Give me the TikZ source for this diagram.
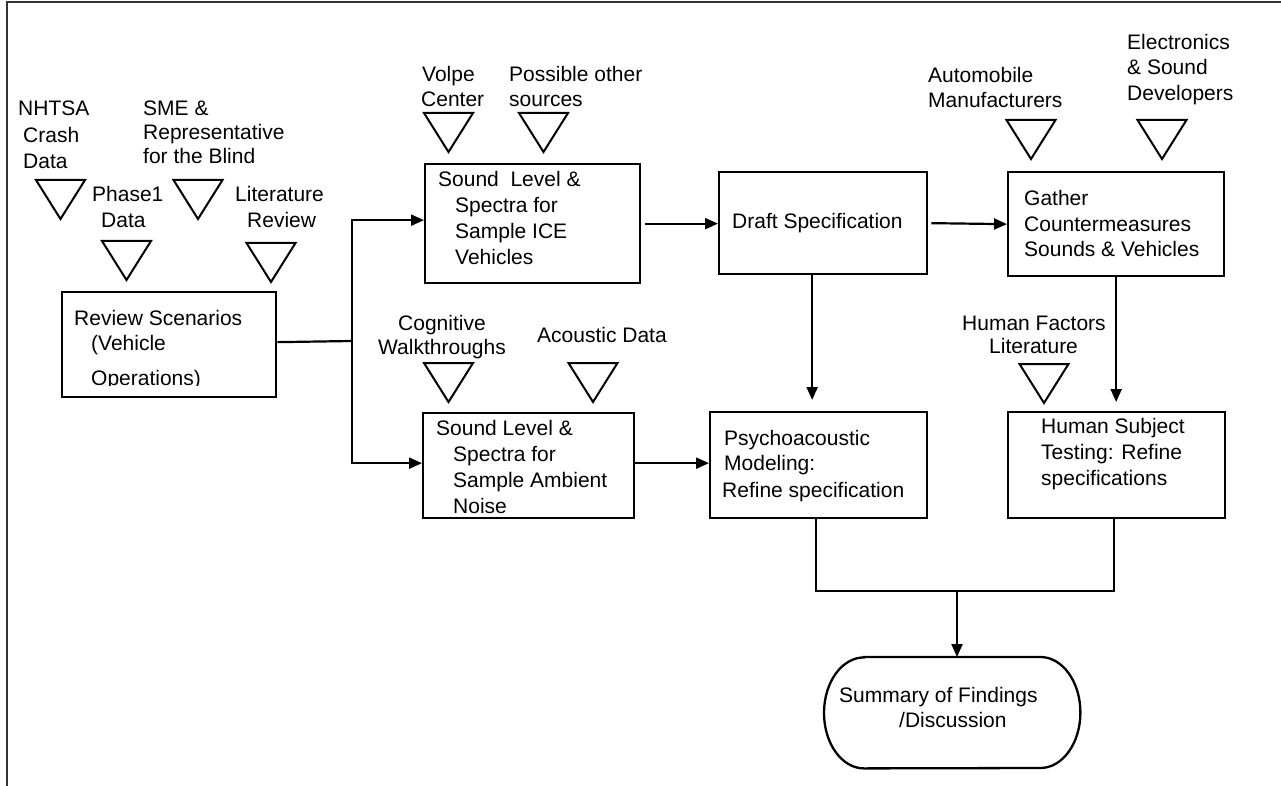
\documentclass[tikz,border=0pt]{standalone}
\usepackage{fontspec}
\setmainfont{Liberation Sans}
\usetikzlibrary{arrows.meta}
\tikzset{
  box/.style={draw, line width=2.3pt, anchor=north west, inner sep=0pt},
  lbl/.style={font=\fontsize{21}{25}\selectfont, inner sep=0pt, anchor=base west},
  clbl/.style={font=\fontsize{21}{25}\selectfont, inner sep=0pt, anchor=base},
  tri/.style={line width=2pt, line join=miter},
  invtri/.pic={\draw[tri] (-24.5,0) -- (24.5,0) -- (0,39) -- cycle;},
  conn/.style={line width=2.2pt},
  ar/.style={line width=2.2pt, -{Triangle[length=13pt,width=11pt]}},
}
\begin{document}
\begin{tikzpicture}[x=1pt,y=-1pt]
\useasboundingbox (0,0) rectangle (1281,786);
% frame
\draw[line width=1.8pt, black!80] (7,786) -- (7,2) -- (1281,2);

% ---------- boxes ----------
\node[box, minimum width=214pt, minimum height=105pt] (rev) at (61,291) {};
\node[box, minimum width=215pt, minimum height=119pt] (ice) at (424,163) {};
\node[box, minimum width=208pt, minimum height=102pt] (draft) at (718,171) {};
\node[box, minimum width=216pt, minimum height=104pt] (gath) at (1007,171) {};
\node[box, minimum width=211pt, minimum height=105pt] (amb) at (422,412) {};
\node[box, minimum width=217pt, minimum height=106pt] (psy) at (709,411) {};
\node[box, minimum width=217pt, minimum height=106pt] (hum) at (1007,411) {};
\node[anchor=north west, inner sep=0pt, minimum width=256pt, minimum height=111pt] (sum) at (824,657) {};
\draw[line width=2.3pt] ([xshift=40pt]sum.north west) -- ([xshift=-40pt]sum.north east)
  arc[start angle=-90, end angle=90, x radius=40, y radius=55.5]
  -- ([xshift=40pt]sum.south west)
  arc[start angle=90, end angle=270, x radius=40, y radius=55.5] -- cycle;

% ---------- box texts ----------
\begin{scope}
\clip (rev.north west) rectangle ([yshift=13pt]rev.south east);
\node[lbl] (rev1) at (74,325) {Review Scenarios};
\node[lbl] (rev2) at (91,350) {(Vehicle};
\node[lbl] (rev3) at (91,385) {Operations)};
\end{scope}

\node[lbl] (ice1) at (438,187) {Sound\ \ Level \&};
\node[lbl] (ice2) at (455,213) {Spectra for};
\node[lbl] (ice3) at (455,239) {Sample ICE};
\node[lbl] (ice4) at (455,265) {Vehicles};

\node[lbl] (draft1) at (732,229) {Draft Specification};

\node[lbl] (gath1) at (1024,206) {Gather};
\node[lbl] (gath2) at (1024,232) {Countermeasures};
\node[lbl] (gath3) at (1024,257) {Sounds \& Vehicles};

\node[lbl] (amb1) at (436,435) {Sound Level \&};
\node[lbl] (amb2) at (453,461) {Spectra for};
\node[lbl] (amb3) at (453,487) {Sample Ambient};
\node[lbl] (amb4) at (453,513) {Noise};

\node[lbl] (psy1) at (724,445) {Psychoacoustic};
\node[lbl] (psy2) at (724,470) {Modeling:};
\node[lbl] (psy3) at (722,497) {Refine specification};

\node[lbl] (hum1) at (1041,433) {Human Subject};
\node[lbl] (hum2) at (1041,459) {Testing: Refine};
\node[lbl] (hum3) at (1041,485) {specifications};

\node[lbl] (sum1) at (839,702) {Summary of Findings};
\node[lbl] (sum2) at (899,727) {/Discussion};

% ---------- input triangles ----------
\pic at (60.5,180) {invtri};
\pic at (126.5,241) {invtri};
\pic at (198,180) {invtri};
\pic at (271,243) {invtri};
\pic at (448.5,113) {invtri};
\pic at (543.5,113) {invtri};
\pic at (1031,120) {invtri};
\pic at (1162,120) {invtri};
\pic at (448.5,363) {invtri};
\pic at (593,363) {invtri};
\pic at (1044,364) {invtri};

% ---------- input labels ----------
\node[lbl] (nh1) at (18,116) {NHTSA};
\node[lbl] (nh2) at (23,143) {Crash};
\node[lbl] (nh3) at (23,169) {Data};
\node[lbl] (sme1) at (143,116) {SME \&};
\node[lbl] (sme2) at (143,140) {Representative};
\node[lbl] (sme3) at (143,164) {for the Blind};
\node[lbl] (ph1) at (92,202) {Phase1};
\node[lbl] (ph2) at (101,228) {Data};
\node[lbl] (lit1) at (235,202) {Literature};
\node[lbl] (lit2) at (247,228) {Review};
\node[lbl] (vol1) at (422,82) {Volpe};
\node[lbl] (vol2) at (421,107) {Center};
\node[lbl] (pos1) at (509,82) {Possible other};
\node[lbl] (pos2) at (509,107) {sources};
\node[lbl] (aut1) at (928,83) {Automobile};
\node[lbl] (aut2) at (928,108) {Manufacturers};
\node[lbl] (ele1) at (1127,50) {Electronics};
\node[lbl] (ele2) at (1127,75) {\& Sound};
\node[lbl] (ele3) at (1127,101) {Developers};
\node[clbl] (cog1) at (442,330) {Cognitive};
\node[clbl] (cog2) at (442,354) {Walkthroughs};
\node[lbl] (aco1) at (537,342) {Acoustic Data};
\node[lbl] (hf1) at (962,330) {Human Factors};
\node[lbl] (hf2) at (989,353) {Literature};

% ---------- connectors ----------
\coordinate (jn) at (352,341);
\draw[conn] ([yshift=2.5pt]rev.east) -- (jn);
\draw[ar] (jn) |- ([yshift=3.5pt]ice.west);
\draw[ar] (jn) |- ([yshift=2.5pt]amb.west);
\draw[ar] ([xshift=4pt]ice.east) -- (ice.east -| draft.west);
\draw[ar] ([xshift=3pt]draft.east) -- (gath.west);
\draw[ar] ([yshift=2.5pt]amb.east) -- ([yshift=2.5pt]amb.east -| psy.west);
\draw[ar, shorten >=11pt] ([xshift=-11pt]draft.south) -- ([xshift=-11pt]draft.south |- psy.north);
\draw[ar, shorten >=9pt] (gath.south) -- (gath.south |- hum.north);
\coordinate (bus) at (0,591);
\draw[conn] ([xshift=-2.5pt]psy.south) -- ([xshift=-2.5pt]psy.south |- bus) -- ([xshift=-2.5pt]hum.south |- bus) -- ([xshift=-2.5pt]hum.south);
\coordinate (mj) at (957,591);
\draw[ar] (mj) -- (mj |- sum.north);
\end{tikzpicture}
\end{document}
